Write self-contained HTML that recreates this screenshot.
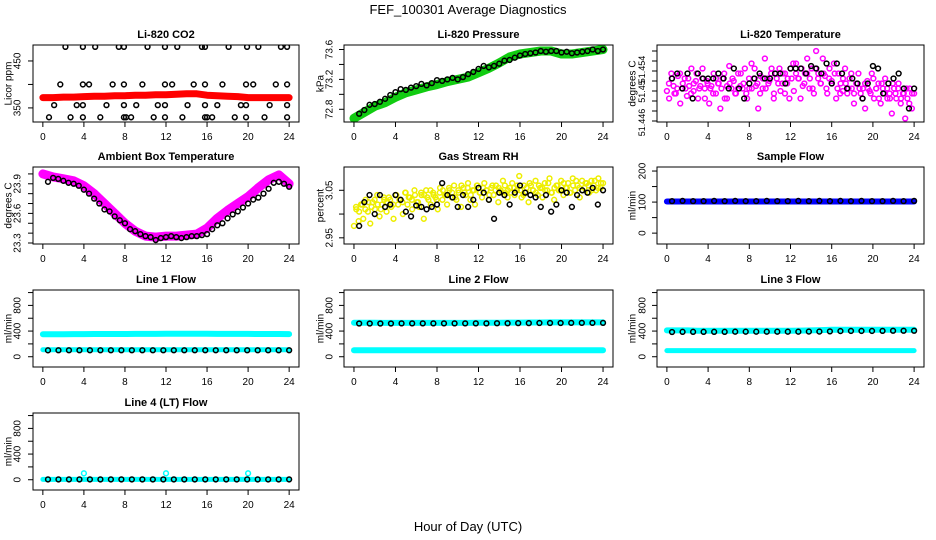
<!DOCTYPE html>
<html><head><meta charset="utf-8"><style>
body{margin:0;background:#fff}
svg{display:block;font-family:"Liberation Sans",sans-serif}
</style></head><body>
<svg id="c" width="936" height="540" viewBox="0 0 936 540">
<text x="468" y="14" text-anchor="middle" font-size="13">FEF_100301  Average Diagnostics</text>
<text x="468" y="531" text-anchor="middle" font-size="13">Hour of Day (UTC)</text>
</svg>
<script>
// ---------- data ----------
const xTicks=[0,4,8,12,16,20,24];
const co2Red=[372,372,373,373,374,375,375,376,376,377,377,378,378,379,380,380,377,376,375,374,372,372,372,372,372];
const co2BlackX=[2.2,3.9,5.1,7.4,7.9,10.2,11.9,13.1,15.5,15.8,18.1,19.9,21,23.2,23.8,1.7,3.9,4.5,6.8,7.9,9.7,11.9,12.6,14.7,15.8,17.5,19.8,20.5,22.7,23.8,1.1,3.3,3.9,6.2,7.9,9.1,11.2,11.9,14.1,15.8,17,19.3,19.8,22.1,23.8,0.6,2.7,3.9,5.6,7.9,8.1,8.6,10.8,11.9,13.6,15.8,16,16.5,18.7,19.8,21.6,23.8];
const co2BlackY=[480,480,480,480,480,480,480,480,480,480,480,480,480,480,480,400,400,400,400,400,400,400,400,400,400,400,400,400,400,400,356,356,356,356,356,356,356,356,356,356,356,356,356,356,356,330,330,330,330,330,330,330,330,330,330,330,330,330,330,330,330,330];
const pressGreen=[72.68,72.76,72.84,72.89,72.96,73.02,73.06,73.1,73.13,73.17,73.2,73.23,73.29,73.35,73.42,73.5,73.54,73.56,73.58,73.58,73.54,73.54,73.56,73.58,73.6];
const pressBlack=[72.74,72.79,72.86,72.87,72.9,72.94,72.99,73.03,73.07,73.06,73.09,73.11,73.14,73.12,73.15,73.19,73.18,73.2,73.22,73.2,73.23,73.27,73.3,73.34,73.38,73.36,73.38,73.41,73.45,73.46,73.49,73.52,73.54,73.55,73.56,73.58,73.57,73.58,73.58,73.56,73.57,73.55,73.56,73.57,73.58,73.6,73.58,73.6];
const tempMag=[51.450,51.4485,51.4535,51.451,51.4495,51.453,51.4475,51.4505,51.4525,51.449,51.451,51.4545,51.450,51.452,51.4485,51.451,51.4545,51.4505,51.452,51.4475,51.451,51.4535,51.4495,51.4515,51.4465,51.4525,51.4485,51.451,51.455,51.4505,51.452,51.4495,51.4535,51.451,51.4505,51.4545,51.4485,51.4505,51.4555,51.4525,51.451,51.4465,51.453,51.4505,51.4565,51.4525,51.452,51.4545,51.4485,51.4535,51.4515,51.450,51.4535,51.4495,51.4515,51.4485,51.4525,51.450,51.4555,51.4525,51.4485,51.451,51.4535,51.4565,51.4505,51.4545,51.4495,51.458,51.4535,51.4515,51.4565,51.453,51.4495,51.4545,51.452,51.4555,51.4485,51.4535,51.4515,51.450,51.4545,51.4495,51.4525,51.4505,51.4475,51.4515,51.4535,51.4495,51.4505,51.4465,51.452,51.450,51.4535,51.4485,51.4505,51.4515,51.4475,51.4505,51.4525,51.4485,51.4495,51.4455,51.4505,51.4485,51.4515,51.4475,51.4495,51.4445,51.4485,51.4505,51.4465,51.4495];
const tempMag2=[51.4515,51.4525,51.4495,51.4505,51.4535,51.4515,51.4505,51.4525,51.4495,51.4515,51.4535,51.4505,51.4525,51.4485,51.4515,51.4505,51.4495,51.4525,51.4515,51.4505,51.4535,51.4485,51.4515,51.4525,51.4495,51.4505,51.4535,51.4515,51.4495,51.4525,51.4505,51.4545,51.4515,51.4495,51.4525,51.4505,51.4515,51.4535,51.4495,51.4525,51.4545,51.4515,51.4535,51.4525,51.4545,51.4555,51.4535,51.4525,51.4545,51.4515,51.4535,51.4525,51.4505,51.4545,51.4525,51.4515,51.4535,51.4505,51.4525,51.4515,51.4535,51.4505,51.4495,51.4525,51.4515,51.4505,51.4535,51.4495,51.4515,51.4505,51.4485,51.4515,51.4505,51.4495,51.4525,51.4505,51.4485,51.4515,51.4495,51.4505,51.4485,51.4515,51.4495,51.4505,51.4485,51.4495,51.4505,51.4475,51.4495];
const tempBlack=[51.4525,51.4535,51.4505,51.4535,51.4485,51.4535,51.4525,51.4525,51.4525,51.4535,51.4525,51.4505,51.4545,51.4505,51.4485,51.4515,51.4525,51.4535,51.4525,51.4525,51.4535,51.4535,51.4515,51.4545,51.4545,51.4545,51.4535,51.455,51.4545,51.4535,51.4555,51.4515,51.4555,51.4535,51.4505,51.4525,51.4515,51.4485,51.4515,51.455,51.4545,51.4495,51.4515,51.4525,51.4535,51.4505,51.4465,51.4505];
const ambMag=[24.0,23.97,23.95,23.93,23.88,23.8,23.7,23.6,23.5,23.42,23.37,23.36,23.37,23.37,23.38,23.39,23.45,23.55,23.63,23.7,23.77,23.86,23.94,23.99,23.9];
const ambBlack=[23.92,23.96,23.95,23.93,23.91,23.9,23.88,23.84,23.8,23.75,23.7,23.64,23.62,23.57,23.53,23.5,23.44,23.42,23.39,23.37,23.36,23.33,23.35,23.36,23.37,23.36,23.35,23.36,23.37,23.37,23.38,23.39,23.44,23.48,23.5,23.55,23.59,23.62,23.66,23.7,23.74,23.76,23.8,23.85,23.91,23.92,23.9,23.87];
const rhYel=[2.975,3.01,2.985,3.02,2.99,3.03,3.005,2.98,3.025,3.01,3.04,2.995,3.02,3.03,3.005,3.035,3.015,2.99,3.04,3.02,3.03,3.0,3.045,3.02,3.035,3.01,3.05,3.025,3.015,3.04,2.99,3.05,3.03,3.02,3.045,3.035,3.01,3.055,3.03,3.04,3.02,3.05,3.035,3.06,3.03,3.045,3.015,3.055,3.04,3.065,3.03,3.05,3.02,3.06,3.045,3.035,3.065,3.05,3.03,3.055,3.04,3.06,3.025,3.05,3.07,3.045,3.035,3.055,3.065,3.04,3.05,3.08,3.035,3.06,3.045,3.025,3.06,3.05,3.07,3.04,3.055,3.035,3.065,3.05,3.075,3.045,3.03,3.06,3.05,3.07,3.04,3.055,3.065,3.045,3.075,3.05,3.06,3.035,3.07,3.055,3.065,3.045,3.07,3.06,3.05,3.075,3.055,3.065];
const rhYel2=[3.015,3.005,3.02,3.01,3.025,3.015,3.03,3.02,3.01,3.035,3.025,3.03,3.02,3.04,3.03,3.025,3.045,3.035,3.03,3.04,3.025,3.045,3.04,3.035,3.05,3.04,3.03,3.045,3.05,3.04,3.055,3.045,3.035,3.05,3.06,3.045,3.055,3.04,3.05,3.06,3.045,3.055,3.05,3.04,3.06,3.05,3.055,3.045,3.06,3.05,3.045,3.055,3.06,3.05,3.04,3.055,3.065,3.05,3.045,3.06,3.055,3.05,3.065,3.045,3.055,3.06,3.05,3.065,3.055,3.045,3.06,3.07,3.055,3.05,3.065,3.06,3.05,3.07,3.055,3.065];
const rhBlack=[2.975,3.025,3.04,3.0,3.04,3.015,3.02,3.04,3.03,3.005,2.995,3.018,3.015,3.01,3.015,3.02,3.065,3.04,3.035,3.015,3.04,3.015,3.03,3.055,3.045,3.03,2.99,3.045,3.04,3.02,3.045,3.06,3.045,3.04,3.035,3.015,3.04,3.005,3.02,3.05,3.045,3.015,3.04,3.05,3.045,3.055,3.02,3.05];
const flowBlue=[102,102,102,102,102,102,102,102,102,102,102,102,102,102,102,102,102,102,102,102,102,102,102,102,102];
const flowBlack=[103,104,103,103,104,103,104,103,103,104,103,103,104,103,104,103,104,103,104,103,103,104,103,104];
const l1Cyan=[350,350,350,352,352,355,355,355,355,356,356,356,357,357,357,357,357,356,356,356,356,355,355,354,352];
const l1Cyan2=[110,110,110,110,110,110,110,110,110,110,110,110,110,110,110,110,110,110,110,110,110,110,110,110,110];
const l1Black=[100,101,101,101,101,101,101,101,101,101,101,101,101,101,101,101,101,101,101,101,101,101,101,101];
const l2Cyan=[530,530,530,528,528,528,528,528,528,528,528,528,530,530,530,532,532,533,533,535,535,535,535,535,535];
const l2Cyan2=[100,100,100,100,100,100,100,100,100,100,100,100,100,100,100,100,100,100,100,100,100,100,100,100,100];
const l2Black=[518,518,518,518,520,520,520,520,520,520,520,520,520,522,522,524,524,526,526,526,528,528,528,528];
const l3Cyan=[410,410,410,405,405,405,405,405,405,405,405,405,405,408,410,415,420,420,420,420,420,420,420,420,420];
const l3Cyan2=[95,95,95,95,95,95,95,95,95,95,95,95,95,95,95,95,95,95,95,95,95,95,95,95,95];
const l3Black=[385,388,388,388,388,388,390,390,390,390,390,390,390,392,392,395,400,402,402,402,403,405,405,405];
const l4Cyan=[5,5,5,5,5,5,5,5,5,5,5,5,5,5,5,5,5,5,5,5,5,5,5,5,5];
const l4CyanOutX=[4,12,20];
const l4CyanOutY=[100,100,100];
const l4Black=[5,5,5,5,5,5,5,5,5,5,5,5,5,5,5,5,5,5,5,5,5,5,5,5];

// ---------- layout ----------
const NS='http://www.w3.org/2000/svg';
const svg=document.getElementById('c');
const cols=[[33,299],[344,613],[657,924]];
const rows=[[45,122],[167,244],[290,367],[413,490]];
const ylabX=[8,320,632], ytlX=[17,329,642];
function mk(tag,attrs,parent){const e=document.createElementNS(NS,tag);for(const k in attrs)e.setAttribute(k,attrs[k]);(parent||svg).appendChild(e);return e;}

function panel(p){
  const [x0,x1]=cols[p.c],[y0,y1]=rows[p.r];
  const g=mk('g',{});
  
  
  const sx=v=>x0+(v+0.96)/25.92*(x1-x0);
  const sy=v=>y1-(v-p.ylim[0])/(p.ylim[1]-p.ylim[0])*(y1-y0);
  const t=mk('text',{x:(x0+x1)/2,y:y0-7,'text-anchor':'middle','font-size':11,'font-weight':'bold'},g);t.textContent=p.title;
  
  
  const yl=mk('text',{x:ylabX[p.c],y:(y0+y1)/2,'text-anchor':'middle','font-size':10,transform:`rotate(-90 ${ylabX[p.c]} ${(y0+y1)/2})`,dy:'0.35em'},g);yl.textContent=p.ylab;
  
  
  xTicks.forEach(v=>{const X=sx(v);mk('line',{x1:X,x2:X,y1:y1,y2:y1+5,stroke:'#000'},g);
    const l=mk('text',{x:X,y:y1+18,'text-anchor':'middle','font-size':10},g);l.textContent=v;
    
    });
  p.yticks.forEach(v=>{const Y=sy(v);mk('line',{x1:x0,x2:x0-5,y1:Y,y2:Y,stroke:'#000'},g);});
  p.ylabels.forEach((v,i)=>{const Y=sy(v);const X=ytlX[p.c];
    const l=mk('text',{x:X,y:Y,'text-anchor':'middle','font-size':p.ylabSize||10,dy:'0.35em',transform:`rotate(-90 ${X} ${Y})`},g);l.textContent=p.ylabText?p.ylabText[i]:v;
    
    });
  const clip='clip'+p.r+p.c;
  const cp=mk('clipPath',{id:clip},g);mk('rect',{x:x0,y:y0,width:x1-x0,height:y1-y0},cp);
  const pg=mk('g',{'clip-path':`url(#${clip})`},g);
  p.series.forEach(s=>{
    const sg=mk('g',{},pg);
    
    
    let xs=s.x;
    if(!xs){xs=s.y.map((_,i)=>s.start+i*(s.end-s.start)/(s.y.length-1));}
    if(s.band){
      const d=s.y.map((v,i)=>(i?'L':'M')+sx(xs[i]).toFixed(1)+' '+sy(v).toFixed(1)).join('');
      const pth=mk('path',{d:d,fill:'none',stroke:s.col,'stroke-width':s.band,'stroke-linecap':'round','stroke-linejoin':'round'},sg);
      
      
    } else {
      s.y.forEach((v,i)=>{const c=mk('circle',{cx:sx(xs[i]),cy:sy(v),r:2.4,fill:'none',stroke:s.col,'stroke-width':s.w||1.5},sg);
        
        });
    }
  });
  mk('rect',{x:x0,y:y0,width:x1-x0,height:y1-y0,fill:'none',stroke:'#000','stroke-width':1},g);
}
const half={start:0.5,end:24};
const flowTicks=[0,200,400,600,800,1000];
panel({name:'co2-panel',r:0,c:0,title:'Li-820 CO2',ylab:'Licor ppm',ylim:[320,484],yticks:[350,400,450],ylabels:[350,450],
  series:[{name:'co2-red',y:co2Red,start:0,end:24,band:7,col:'#f00'},{name:'co2-black',x:co2BlackX,y:co2BlackY,col:'#000'}]});
panel({name:'pressure-panel',r:0,c:1,title:'Li-820 Pressure',ylab:'kPa',ylim:[72.63,73.66],yticks:[72.8,73.0,73.2,73.4,73.6],ylabels:[72.8,73.2,73.6],
  series:[{name:'pressure-green',y:pressGreen,start:0,end:24,band:9,col:'#1c1'},{name:'pressure-black',y:pressBlack,...half,col:'#000'}]});
panel({name:'temperature-panel',r:0,c:2,title:'Li-820 Temperature',ylab:'degrees C',ylim:[51.4438,51.4592],yticks:[51.444,51.446,51.448,51.450,51.452,51.454,51.456,51.458],ylabels:[51.4543,51.4499,51.4437],ylabText:['51.454','51.45','51.446'],ylabSize:9,
  series:[{name:'temp-magenta',y:tempMag,start:0,end:24,col:'#f0f'},{name:'temp-magenta-2',y:tempMag2,start:0.2,end:23.8,col:'#f0f'},{name:'temp-black',y:tempBlack,...half,col:'#000'}]});
panel({name:'ambient-panel',r:1,c:0,title:'Ambient Box Temperature',ylab:'degrees C',ylim:[23.29,24.07],yticks:[23.3,23.4,23.5,23.6,23.7,23.8,23.9,24.0],ylabels:[23.3,23.6,23.9],
  series:[{name:'ambient-magenta',y:ambMag,start:0,end:24,band:9,col:'#f0f'},{name:'ambient-black',y:ambBlack,...half,col:'#000'}]});
panel({name:'rh-panel',r:1,c:1,title:'Gas Stream RH',ylab:'percent',ylim:[2.937,3.099],yticks:[2.95,3.0,3.05],ylabels:[2.95,3.05],ylabText:['2.95','3.05'],
  series:[{name:'rh-yellow',y:rhYel,start:0,end:24,col:'#ee0'},{name:'rh-yellow-2',y:rhYel2,start:0.2,end:23.8,col:'#ee0'},{name:'rh-black',y:rhBlack,...half,col:'#000'}]});
panel({name:'sample-flow-panel',r:1,c:2,title:'Sample Flow',ylab:'ml/min',ylim:[-35,213],yticks:[0,50,100,150,200],ylabels:[0,100,200],
  series:[{name:'sample-blue',y:flowBlue,start:0,end:24,band:6,col:'#00f'},{name:'sample-black',y:flowBlack,...half,col:'#000'}]});
panel({name:'line1-panel',r:2,c:0,title:'Line 1 Flow',ylab:'ml/min',ylim:[-160,1040],yticks:flowTicks,ylabels:[0,400,800],
  series:[{name:'line1-cyan',y:l1Cyan,start:0,end:24,band:6,col:'#0ff'},{name:'line1-cyan-low',y:l1Cyan2,start:0,end:24,band:5,col:'#0ff'},{name:'line1-black',y:l1Black,...half,col:'#000'}]});
panel({name:'line2-panel',r:2,c:1,title:'Line 2 Flow',ylab:'ml/min',ylim:[-160,1040],yticks:flowTicks,ylabels:[0,400,800],
  series:[{name:'line2-cyan',y:l2Cyan,start:0,end:24,band:6,col:'#0ff'},{name:'line2-cyan-low',y:l2Cyan2,start:0,end:24,band:6,col:'#0ff'},{name:'line2-black',y:l2Black,...half,col:'#000'}]});
panel({name:'line3-panel',r:2,c:2,title:'Line 3 Flow',ylab:'ml/min',ylim:[-160,1040],yticks:flowTicks,ylabels:[0,400,800],
  series:[{name:'line3-cyan',y:l3Cyan,start:0,end:24,band:6,col:'#0ff'},{name:'line3-cyan-low',y:l3Cyan2,start:0,end:24,band:5,col:'#0ff'},{name:'line3-black',y:l3Black,...half,col:'#000'}]});
panel({name:'line4-panel',r:3,c:0,title:'Line 4 (LT) Flow',ylab:'ml/min',ylim:[-160,1040],yticks:flowTicks,ylabels:[0,400,800],
  series:[{name:'line4-cyan',y:l4Cyan,start:0,end:24,band:5,col:'#0ff'},{name:'line4-cyan-out',x:l4CyanOutX,y:l4CyanOutY,col:'#0ff'},{name:'line4-black',y:l4Black,...half,col:'#000'}]});
</script>
</body></html>
